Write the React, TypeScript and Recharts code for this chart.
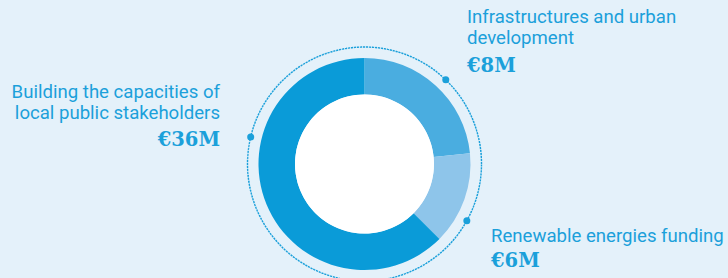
import { PieChart, Pie, Cell } from "recharts";

// slices in clockwise order starting at 12 o'clock
const categories = [
  "Infrastructures and urban development",
  "Renewable energies funding",
  "Building the capacities of local public stakeholders",
];
const amounts = ["€8M", "€6M", "€36M"];
// arc shares as drawn in the picture (%)
const shares = [23.4, 14.1, 62.5];
const colors = ["#4aade0", "#8ec5ea", "#0a9bd8"];
// where each marker dot sits on the dotted ring (degrees, counter-clockwise from 3 o'clock)
const dotAngles = [46, -29, 166.6];

const data = categories.map((name, i) => ({ name, value: shares[i] }));

const TEXT = "#1ba0da";
const CX = 364.5;
const CY = 164;
const RING = 117;

const labelStyle: React.CSSProperties = {
  position: "absolute",
  fontFamily: "Roboto, sans-serif",
  fontSize: 18.6,
  lineHeight: "21px",
  color: TEXT,
  whiteSpace: "nowrap",
};
const amountStyle: React.CSSProperties = {
  fontFamily: "'DejaVu Serif', serif",
  fontWeight: 700,
  fontSize: 19.5,
  lineHeight: "26px",
  color: TEXT,
};

const renderDot = (props: any) => {
  const a = (dotAngles[props.index] * Math.PI) / 180;
  return (
    <circle
      key={`dot-${props.index}`}
      cx={props.cx + RING * Math.cos(a)}
      cy={props.cy - RING * Math.sin(a)}
      r={3.5}
      fill={TEXT}
    />
  );
};

export default function App() {
  return (
    <div
      style={{
        position: "absolute",
        left: 0,
        top: 0,
        width: 728,
        height: 278,
        background: "#e4f1fa",
        overflow: "hidden",
      }}
    >
      <PieChart width={728} height={278} margin={{ top: 0, right: 0, bottom: 0, left: 0 }}>
        {/* dotted guide ring */}
        <Pie
          data={[{ value: 1 }]}
          dataKey="value"
          cx={CX}
          cy={CY}
          innerRadius={RING}
          outerRadius={RING}
          fill="none"
          stroke={TEXT}
          strokeWidth={1.4}
          strokeDasharray="1.2 1.8"
          isAnimationActive={false}
        />
        <Pie
          data={data}
          dataKey="value"
          cx={CX}
          cy={CY}
          startAngle={90}
          endAngle={-270}
          innerRadius={69.5}
          outerRadius={106}
          stroke="none"
          label={renderDot}
          labelLine={false}
          isAnimationActive={false}
        >
          {data.map((d, i) => (
            <Cell key={d.name} fill={colors[i]} />
          ))}
        </Pie>
        {/* white hole */}
        <Pie
          data={[{ value: 1 }]}
          dataKey="value"
          cx={CX}
          cy={CY}
          innerRadius={0}
          outerRadius={69.5}
          fill="#ffffff"
          stroke="none"
          isAnimationActive={false}
        />
      </PieChart>

      <div style={{ ...labelStyle, left: 467, top: 7 }}>
        Infrastructures and urban
        <br />
        development
        <div style={{ ...amountStyle, marginTop: 4 }}>{amounts[0]}</div>
      </div>

      <div style={{ ...labelStyle, left: 491, top: 226 }}>
        Renewable energies funding
        <div style={{ ...amountStyle, marginTop: 1 }}>{amounts[1]}</div>
      </div>

      <div style={{ ...labelStyle, right: 508, top: 82, textAlign: "right" }}>
        Building the capacities of
        <br />
        local public stakeholders
        <div style={{ ...amountStyle, marginTop: 3 }}>{amounts[2]}</div>
      </div>
    </div>
  );
}
